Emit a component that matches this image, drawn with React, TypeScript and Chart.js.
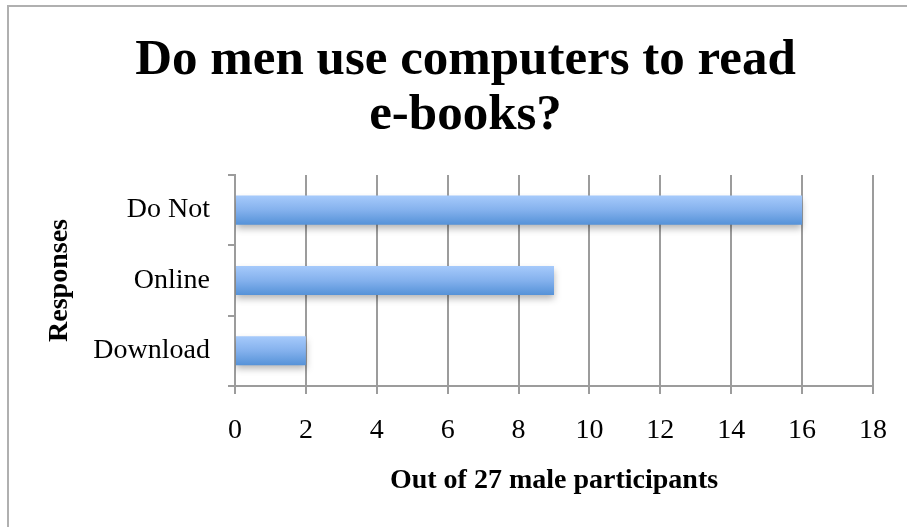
import React, { useEffect, useRef } from "react";
import { Chart, registerables } from "chart.js";

Chart.register(...registerables);

const categories = ["Do Not", "Online", "Download"];
const responseCounts = [16, 9, 2];
const xMin = 0;
const xMax = 18;
const xStep = 2;
const titleLines = ["Do men use computers to read", "e-books?"];
const xTitle = "Out of 27 male participants";
const yTitle = "Responses";

const SERIF = "'Liberation Serif', 'Times New Roman', serif";
const GRID = "#9c9c9c";

const framePlugin = {
  id: "frame",
  beforeDraw(chart: any) {
    const ctx = chart.ctx;
    ctx.save();
    ctx.fillStyle = "#ffffff";
    ctx.fillRect(0, 0, chart.width, chart.height);
    ctx.strokeStyle = "#b0b0b0";
    ctx.lineWidth = 2;
    ctx.strokeRect(8, 6, chart.width + 40, chart.height + 40);
    ctx.restore();
  },
  afterLayout(chart: any) {
    // the reference title is centred slightly right of the canvas centre
    if (chart.titleBlock) {
      chart.titleBlock.left = 55;
    }
  },
};

const barStylePlugin = {
  id: "barStyle",
  beforeDatasetDraw(chart: any, args: any) {
    const ctx = chart.ctx;
    const meta = args.meta;
    meta.data.forEach((el: any) => {
      const h = el.height;
      const top = el.y - h / 2;
      const g = ctx.createLinearGradient(0, top, 0, top + h);
      g.addColorStop(0, "#a6cafb");
      g.addColorStop(0.5, "#84b1ed");
      g.addColorStop(1, "#5592d8");
      el.options = Object.assign({}, el.options, { backgroundColor: g });
    });
    ctx.save();
    ctx.shadowColor = "rgba(0,0,0,0.3)";
    ctx.shadowBlur = 7;
    ctx.shadowOffsetX = 0;
    ctx.shadowOffsetY = 4;
  },
  afterDatasetDraw(chart: any) {
    chart.ctx.restore();
  },
};

export default function App() {
  const ref = useRef<HTMLCanvasElement | null>(null);

  useEffect(() => {
    const canvas = ref.current;
    if (!canvas) return;
    const chart = new Chart(canvas, {
      type: "bar",
      data: {
        labels: categories,
        datasets: [
          {
            label: "Responses",
            data: responseCounts,
            backgroundColor: "#84b1ed",
            borderWidth: 0,
            barPercentage: 0.55,
            categoryPercentage: 0.75,
          },
        ],
      },
      options: {
        indexAxis: "y",
        responsive: false,
        animation: false,
        devicePixelRatio: 1,
        layout: { padding: { left: 0, right: 31, top: 0, bottom: 0 } },
        plugins: {
          legend: { display: false },
          tooltip: { enabled: false },
          title: {
            display: true,
            text: titleLines,
            color: "#000000",
            font: { family: SERIF, size: 51, weight: "bold", lineHeight: 1.08 },
            padding: { top: 33, bottom: 31.8 },
          },
        },
        scales: {
          x: {
            type: "linear",
            min: xMin,
            max: xMax,
            ticks: {
              stepSize: xStep,
              color: "#000000",
              font: { family: SERIF, size: 28 },
              padding: 20,
              maxRotation: 0,
            },
            grid: {
              display: true,
              color: GRID,
              lineWidth: 2,
              drawOnChartArea: true,
              drawTicks: true,
              tickLength: 8,
            },
            border: { display: true, color: GRID, width: 2 },
            title: {
              display: true,
              text: xTitle,
              color: "#000000",
              font: { family: SERIF, size: 28, weight: "bold", lineHeight: 1.2 },
              padding: { top: 0, bottom: 29 },
            },
            afterFit(scale: any) {
              scale.height = 141;
            },
          },
          y: {
            type: "category",
            ticks: {
              color: "#000000",
              font: { family: SERIF, size: 28 },
              padding: 18,
            },
            grid: {
              display: true,
              color: GRID,
              lineWidth: 2,
              drawOnChartArea: false,
              drawTicks: true,
              tickLength: 7,
              offset: true,
            },
            border: { display: true, color: GRID, width: 2 },
            title: {
              display: true,
              text: yTitle,
              color: "#000000",
              font: { family: SERIF, size: 28, weight: "bold", lineHeight: 1.2 },
              padding: { top: 43, bottom: 0 },
            },
            afterFit(scale: any) {
              scale.width = 235;
            },
          },
        },
      },
      plugins: [framePlugin, barStylePlugin],
    } as any);
    return () => chart.destroy();
  }, []);

  return (
    <div style={{ position: "absolute", left: 0, top: 0, width: 907, height: 527 }}>
      <canvas ref={ref} width={907} height={527} style={{ display: "block" }} />
    </div>
  );
}
